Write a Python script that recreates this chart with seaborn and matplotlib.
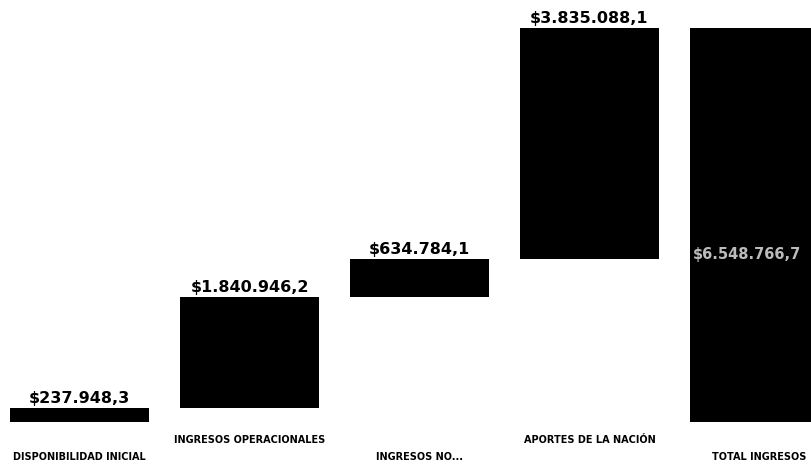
import matplotlib
matplotlib.use("Agg")
import matplotlib.pyplot as plt
import matplotlib.transforms as mtransforms
import numpy as np
import pandas as pd
import seaborn as sns

# Data
categories = ["DISPONIBILIDAD INICIAL", "INGRESOS OPERACIONALES", "INGRESOS NO...",
              "APORTES DE LA NACIÓN", "TOTAL INGRESOS"]
values = [237948.3, 1840946.2, 634784.1, 3835088.1, 6548766.7]
labels = ["$237.948,3", "$1.840.946,2", "$634.784,1", "$3.835.088,1", "$6.548.766,7"]

sns.set_theme(style="white")
plt.rcParams['font.family'] = ['DejaVu Sans']

# waterfall: steps stack, last bar is the total
steps = np.array(values[:-1])
tops = list(np.cumsum(steps)) + [values[-1]]
bottoms = list(np.cumsum(steps) - steps) + [0.0]
df = pd.DataFrame({"cat": categories, "top": tops, "bottom": bottoms})

fig = plt.figure(figsize=(8.12, 4.66), dpi=100)
ax = fig.add_axes([0, 44 / 466, 1, 422 / 466])

sns.barplot(data=df, x="cat", y="top", color="black", width=0.82,
            saturation=1, ax=ax, edgecolor="none")
sns.barplot(data=df, x="cat", y="bottom", color="white", width=0.84,
            saturation=1, ax=ax, edgecolor="none")

ax.set_xlim(-0.47, 4.31)
ax.set_ylim(0, 7.014e6)
ax.axis("off")

# value labels
for i, (lab, t) in enumerate(zip(labels, tops)):
    if i == len(labels) - 1:
        ax.text(i - 0.39, 2.776e6, lab, ha="left", va="center", fontsize=10.5,
                fontweight="bold", color="#bbbbbb")
    else:
        ax.text(i, t + 0.03e6, lab, ha="center", va="bottom", fontsize=11.5,
                fontweight="bold", color="black")

# staggered category labels under the bars
trans = mtransforms.blended_transform_factory(ax.transData, fig.transFigure)
for i, cat in enumerate(categories):
    y = 4 / 466 if i % 2 == 0 else 21 / 466
    ax.text(i, y, cat, transform=trans, ha="center", va="bottom",
            fontsize=7, fontweight="bold", color="black")

fig.savefig("out.png", dpi=100)
